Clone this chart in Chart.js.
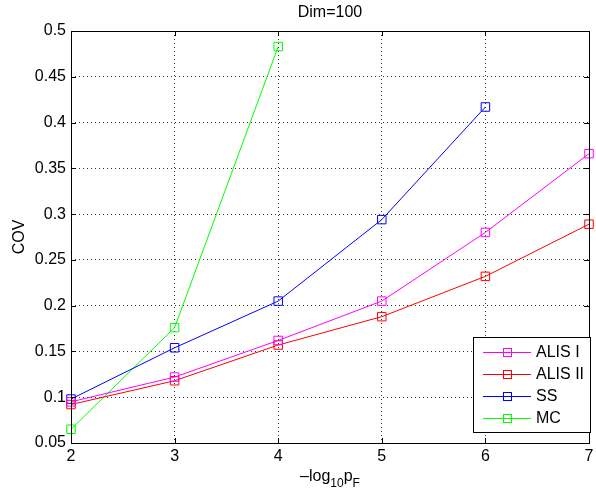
<!DOCTYPE html>
<html lang="en">
<head>
  <meta charset="UTF-8">
  <title>Dim=100</title>
  <script src="https://cdn.jsdelivr.net/npm/chart.js"></script>
  <style>
    html, body { margin: 0; padding: 0; background: #fff; }
    #wrap { width: 596px; height: 495px; }
  </style>
</head>
<body>
  <div id="wrap"><canvas id="grafik" width="596" height="495"></canvas></div>
  <script>
    const xVals = [2, 3, 4, 5, 6, 7];
    const alis1 = [0.095, 0.122, 0.162, 0.205, 0.280, 0.366];
    const alis2 = [0.092, 0.118, 0.157, 0.188, 0.232, 0.289];
    const ssVals = [0.098, 0.154, 0.205, 0.294, 0.417];
    const mcVals = [0.065, 0.176, 0.483];
    const seriesNames = ['ALIS I', 'ALIS II', 'SS', 'MC'];
    const seriesColors = ['#ff00ff', '#ff0000', '#0000ff', '#00ff00'];
    const seriesData = [alis1, alis2, ssVals, mcVals];

    const FONT = 'Liberation Sans, Arial, Helvetica, sans-serif';

    const datasets = seriesData.map((vals, i) => ({
      label: seriesNames[i],
      data: vals.map((v, j) => ({ x: xVals[j], y: v })),
      borderColor: seriesColors[i],
      backgroundColor: 'rgba(0,0,0,0)',
      borderWidth: 1,
      pointStyle: 'rect',
      pointRadius: 6,
      pointBorderWidth: 1,
      pointBorderColor: seriesColors[i],
      pointBackgroundColor: 'rgba(0,0,0,0)',
      tension: 0,
      fill: false,
      clip: 8
    }));

    // kotak sumbu, tick ke dalam, judul, label x, legenda
    const matlabLook = {
      id: 'matlabLook',
      afterDraw(chart) {
        const ctx = chart.ctx;
        const a = chart.chartArea;
        const xs = chart.scales.x, ys = chart.scales.y;
        ctx.save();
        ctx.strokeStyle = '#000';
        ctx.lineWidth = 1;
        ctx.strokeRect(Math.round(a.left) + 0.5, Math.round(a.top) + 0.5,
          Math.round(a.right - a.left), Math.round(a.bottom - a.top));
        ctx.beginPath();
        xs.ticks.forEach(t => {
          const px = Math.round(xs.getPixelForValue(t.value)) + 0.5;
          ctx.moveTo(px, a.bottom); ctx.lineTo(px, a.bottom - 5);
          ctx.moveTo(px, a.top); ctx.lineTo(px, a.top + 5);
        });
        ys.ticks.forEach(t => {
          const py = Math.round(ys.getPixelForValue(t.value)) + 0.5;
          ctx.moveTo(a.left, py); ctx.lineTo(a.left + 5, py);
          ctx.moveTo(a.right, py); ctx.lineTo(a.right - 5, py);
        });
        ctx.stroke();

        // judul
        ctx.fillStyle = '#000';
        ctx.font = '16px ' + FONT;
        ctx.textAlign = 'center';
        ctx.textBaseline = 'middle';
        ctx.fillText('Dim=100', (a.left + a.right) / 2, 13);

        // label y
        ctx.save();
        ctx.translate(20, (a.top + a.bottom) / 2);
        ctx.rotate(-Math.PI / 2);
        ctx.font = '16px ' + FONT;
        ctx.fillText('COV', 0, 0);
        ctx.restore();

        // label x: −log10 pF
        const parts = [['\u2013log', 16, 0], ['10', 12, 6], ['p', 16, 0], ['F', 12, 6]];
        let total = 0;
        parts.forEach(p => { ctx.font = p[1] + 'px ' + FONT; total += ctx.measureText(p[0]).width; });
        let cx = (a.left + a.right) / 2 - total / 2;
        ctx.textAlign = 'left';
        ctx.textBaseline = 'alphabetic';
        parts.forEach(p => {
          ctx.font = p[1] + 'px ' + FONT;
          ctx.fillText(p[0], cx, 481 + p[2]);
          cx += ctx.measureText(p[0]).width;
        });

        // legenda
        const lx = 473, ly = 337, lw = 117, lh = 95;
        ctx.fillStyle = '#fff';
        ctx.fillRect(lx, ly, lw, lh);
        ctx.strokeStyle = '#000';
        ctx.strokeRect(lx + 0.5, ly + 0.5, lw, lh);
        ctx.font = '16px ' + FONT;
        ctx.textBaseline = 'middle';
        const rows = [352, 374, 396, 418];
        chart.data.datasets.forEach((ds, i) => {
          const y = rows[i] + 0.5;
          ctx.strokeStyle = ds.borderColor;
          ctx.beginPath();
          ctx.moveTo(483, y); ctx.lineTo(531, y);
          ctx.stroke();
          ctx.strokeRect(503.5, y - 4, 8, 8);
          ctx.fillStyle = '#000';
          ctx.fillText(ds.label, 536, rows[i] + 1);
        });
        ctx.restore();
      }
    };

    const chart = new Chart(document.getElementById('grafik').getContext('2d'), {
      type: 'line',
      data: { datasets },
      options: {
        responsive: false,
        animation: false,
        layout: { padding: { top: 31, right: 3, left: 0, bottom: 0 } },
        plugins: {
          legend: { display: false },
          title: { display: false },
          tooltip: { enabled: false }
        },
        scales: {
          x: {
            type: 'linear',
            min: 2, max: 7,
            afterFit: s => { s.height = 52; s.paddingLeft = 0; s.paddingRight = 0; },
            ticks: {
              stepSize: 1,
              color: '#000',
              padding: 4,
              font: { family: FONT, size: 16 }
            },
            grid: { color: '#333', drawTicks: false, lineWidth: 1 },
            border: { display: false, dash: [1, 3] }
          },
          y: {
            min: 0.05, max: 0.5,
            afterFit: s => { s.width = 71; s.paddingTop = 0; s.paddingBottom = 0; },
            ticks: {
              stepSize: 0.05,
              color: '#000',
              padding: 5,
              font: { family: FONT, size: 16 },
              callback: v => String(Number(v.toFixed(2)))
            },
            grid: { color: '#333', drawTicks: false, lineWidth: 1 },
            border: { display: false, dash: [1, 3] }
          }
        }
      },
      plugins: [matlabLook]
    });
  </script>
</body>
</html>
